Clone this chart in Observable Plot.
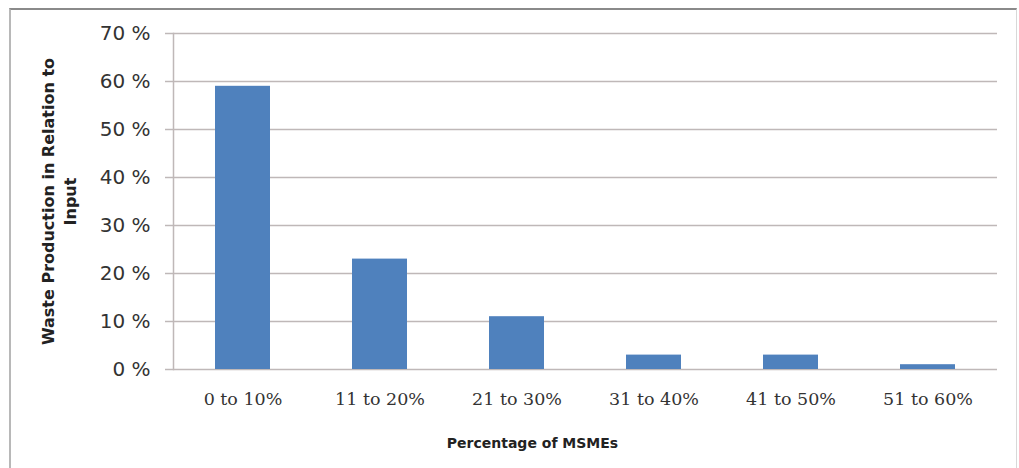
<!DOCTYPE html>
<html>
<head>
<meta charset="utf-8">
<script src="https://cdn.jsdelivr.net/npm/d3@7"></script>
<script src="https://cdn.jsdelivr.net/npm/@observablehq/plot@0.6"></script>
<style>
  html, body { margin: 0; padding: 0; background: #fff; }
  #wrap { position: relative; width: 1019px; height: 468px; overflow: hidden; }
  #border { position: absolute; left: 9px; top: 8px; width: 1008px; height: 480px;
            border-left: 2px solid #b8b8b8; border-top: 2px solid #8a8a8a; border-right: 1px solid #d8d8d8; box-sizing: border-box; pointer-events: none; }
</style>
</head>
<body>
<div id="wrap"><div id="border"></div></div>
<script>
const categories = ["0 to 10%", "11 to 20%", "21 to 30%", "31 to 40%", "41 to 50%", "51 to 60%"];
const values = [59, 23, 11, 3, 3, 1];
const yTicks = [0, 10, 20, 30, 40, 50, 60, 70];
const xTitle = "Percentage of MSMEs";
const yTitleLines = ["Waste Production in Relation to", "Input"];

const data = categories.map((c, i) => ({category: c, value: values[i]}));

const chart = Plot.plot({
  width: 1019,
  height: 468,
  marginLeft: 173,
  marginRight: 22,
  marginTop: 33,
  marginBottom: 99,
  style: {background: "transparent", color: "#333"},
  x: {domain: categories, paddingInner: 0.6, paddingOuter: 0.3, label: null},
  y: {domain: [0, 70], ticks: yTicks, label: null},
  marks: [
    Plot.gridY(yTicks, {stroke: "#bfb8b8", strokeOpacity: 1, strokeWidth: 1.5}),
    Plot.axisY(yTicks, {tickSize: 8, tickPadding: 15, stroke: "#bfb8b8", strokeWidth: 1.5,
      tickFormat: d => d + " %", fontSize: 20, fontFamily: "DejaVu Sans", fill: "#333"}),
    Plot.frame({anchor: "left", stroke: "#bfb8b8", strokeWidth: 1.5}),
    Plot.barY(data, {x: "category", y: "value", fill: "#4f81bd"}),
    Plot.axisX({tickSize: 0, tickPadding: 23, fontSize: 17.5, fontFamily: "DejaVu Serif", fill: "#333"}),
    Plot.text([xTitle], {text: d => d, frameAnchor: "bottom", dx: -53, dy: 78,
      fontSize: 14, fontWeight: "bold", fontFamily: "DejaVu Sans", fill: "#222"}),
    Plot.text([yTitleLines[0]], {text: d => d, frameAnchor: "left", textAnchor: "middle", dx: -125, rotate: -90,
      fontSize: 16, fontWeight: "bold", fontFamily: "DejaVu Sans", fill: "#222"}),
    Plot.text([yTitleLines[1]], {text: d => d, frameAnchor: "left", textAnchor: "middle", dx: -103, rotate: -90,
      fontSize: 16, fontWeight: "bold", fontFamily: "DejaVu Sans", fill: "#222"})
  ]
});
document.getElementById("wrap").prepend(chart);
</script>
</body>
</html>
